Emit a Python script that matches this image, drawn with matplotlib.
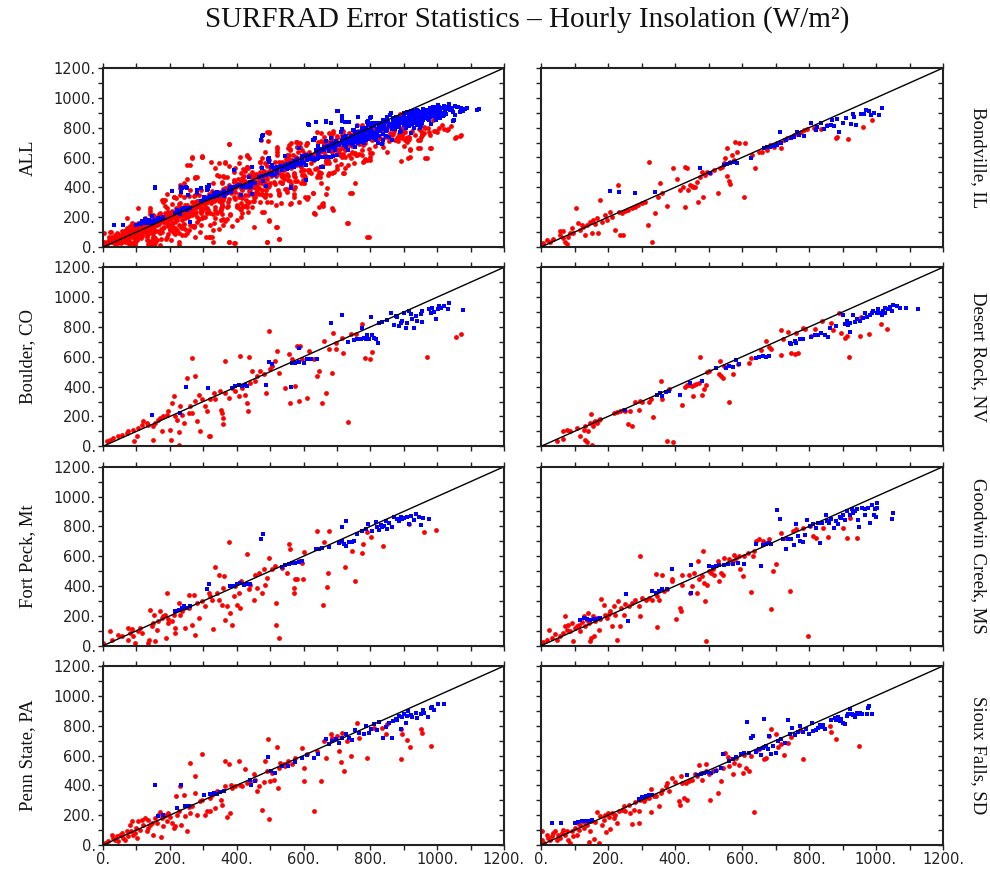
import matplotlib
matplotlib.use("Agg")
import matplotlib.pyplot as plt

# ---------------- text / ticks ----------------
TITLE = "SURFRAD Error Statistics \u2013 Hourly Insolation (W/m\u00b2)"
MAJOR_TICKS = [0, 200, 400, 600, 800, 1000, 1200]
TICK_LABELS = ["0.", "200.", "400.", "600.", "800.", "1000.", "1200."]
MINOR_TICKS = [100, 300, 500, 700, 900, 1100]
PANEL_NAMES = ["ALL", "Bondville, IL", "Boulder, CO", "Desert Rock, NV",
               "Fort Peck, Mt", "Goodwin Creek, MS", "Penn State, PA", "Sioux Falls, SD"]

# ---------------- data (x, y) pairs ----------------
BONDVILLE_RED = [(7,25),(17,47),(27,36),(37,51),(57,80),(67,58),(57,107),(67,107),(72,36),(79,20),(82,69),(87,92),
    (92,125),(97,92),(104,263),(111,163),(116,114),(121,147),(126,132),(131,80),(136,147),(146,170),(151,96),(156,181),
    (161,154),(166,192),(171,96),(176,315),(181,170),(191,214),(196,181),(206,237),(211,203),(221,114),(231,415),(234,237),
    (236,80),(241,226),(246,80),(251,243),(261,248),(271,259),(281,270),(291,281),(301,293),(310,304),(320,147),(323,567),
    (330,36),(340,230),(350,337),(355,427),(360,360),(375,277),(395,532),(405,454),(415,382),(425,405),(430,266),(430,539),
    (435,527),(440,382),(445,416),(450,409),(455,405),(460,405),(465,438),(470,304),(475,471),(480,505),(485,338),(490,483),
    (495,505),(505,494),(515,516),(527,364),(533,527),(540,539),(545,561),(550,594),(555,661),(555,476),(560,445),(563,422),
    (565,572),(570,617),(575,583),(580,706),(585,639),(590,695),(605,338),(610,695),(630,617),(640,527),(650,639),(660,639),
    (675,650),(685,684),(695,672),(705,695),(715,661),(725,717),(735,728),(745,739),(755,751),(765,762),(775,773),(785,784),
    (795,789),(815,795),(835,789),(855,818),(883,739),(880,728),(915,724),(960,802),(987,851)]
BONDVILLE_BLUE = [(206,375),(234,371),(281,360),(340,371),(475,527),(505,494),(545,550),(555,556),(565,561),(575,572),
    (585,565),(627,594),(665,661),(675,668),(685,672),(695,677),(705,684),(713,773),(715,699),(730,717),(745,728),(755,739),
    (765,773),(770,751),(785,744),(805,829),(820,784),(825,806),(835,829),(845,789),(855,811),(865,818),(870,851),(875,811),
    (885,856),(890,773),(900,833),(910,862),(925,824),(930,891),(935,873),(940,818),(955,891),(965,891),(970,918),(980,913),
    (985,885),(995,900),(1010,885),(1017,934)]

BOULDER_RED = [(11,34),(21,45),(31,56),(46,67),(56,78),(71,90),(76,101),(91,112),(94,34),(101,67),(106,123),(116,146),
    (121,168),(131,157),(136,146),(151,45),(151,134),(156,157),(166,179),(171,190),(176,101),(181,202),(191,213),(196,235),
    (201,112),(204,45),(206,291),(211,336),(216,202),(221,179),(226,11),(226,94),(231,269),(236,213),(241,157),(251,459),
    (256,224),(261,269),(266,594),(266,224),(276,470),(276,302),(281,168),(286,347),(291,101),(296,314),(306,269),(311,235),
    (316,67),(321,67),(321,314),(331,358),(336,314),(351,370),(354,246),(356,224),(358,190),(359,150),(364,571),(366,358),
    (376,325),(386,392),(396,370),(406,336),(409,605),(416,392),(426,347),(431,291),(434,235),(436,598),(441,426),(446,504),
    (456,437),(461,470),(471,504),(481,482),(489,358),(496,773),(501,515),(506,538),(516,571),(521,638),(526,493),(546,392),
    (556,616),(561,291),(566,582),(576,403),(581,672),(586,302),(591,672),(596,582),(611,325),(616,638),(631,582),(641,470),
    (646,504),(656,291),(661,706),(668,358),(676,650),(686,493),(688,762),(696,694),(698,650),(716,728),(718,623),(734,163),
    (741,750),(756,750),(776,818),(784,589),(798,582),(806,632),(969,598),(1056,735),(1071,750)]
BOULDER_BLUE = [(148,208),(231,224),(248,399),(313,392),(386,392),(396,403),(406,414),(416,403),(426,408),(431,403),
    (488,408),(496,567),(506,549),(564,399),(566,560),(576,556),(586,564),(588,661),(601,560),(611,582),(621,587),(641,587),
    (681,829),(716,878),(734,699),(751,712),(761,721),(771,717),(776,795),(781,726),(786,717),(791,744),(796,721),(801,869),
    (804,744),(811,728),(816,717),(824,694),(826,829),(836,833),(851,847),(861,896),(871,811),(876,874),(881,869),(886,806),
    (891,829),(896,842),(901,896),(906,795),(911,829),(916,907),(921,885),(926,851),(931,795),(936,874),(941,842),(951,885),
    (954,833),(956,907),(976,918),(981,896),(986,929),(991,900),(996,851),(1001,918),(1006,941),(1011,929),(1021,941),
    (1031,923),(1036,959),(1076,914)]

DESERT_ROCK_RED = [(47,34),(67,49),(67,105),(77,108),(87,101),(107,123),(117,72),(127,108),(132,139),(132,45),(137,27),
    (140,101),(147,157),(150,217),(152,11),(154,134),(157,161),(162,168),(167,157),(172,179),(177,184),(217,224),(227,228),
    (237,235),(244,242),(252,235),(260,150),(267,235),(272,139),(282,296),(292,242),(297,302),(302,296),(322,296),(327,318),
    (334,195),(357,437),(360,318),(377,34),(382,381),(394,27),(422,276),(430,399),(437,414),(442,408),(452,403),(454,336),
    (457,414),(462,421),(472,426),(475,598),(480,347),(487,381),(494,414),(497,497),(502,502),(532,482),(535,571),(537,470),
    (542,459),(547,538),(562,296),(572,488),(587,549),(622,560),(627,594),(657,645),(672,706),(682,668),(687,650),(715,609),
    (717,780),(722,717),(737,764),(747,627),(757,616),(762,762),(767,623),(782,795),(787,784),(807,739),(817,789),(840,840),
    (867,824),(872,780),(890,891),(897,762),(907,728),(912,739),(920,600),(952,739),(954,869),(978,750),(1014,818),(1032,789)]
DESERT_ROCK_BLUE = [(252,246),(347,347),(354,358),(362,340),(372,363),(382,370),(414,347),(444,426),(480,441),(522,526),
    (552,526),(562,538),(572,533),(582,578),(592,549),(642,594),(652,600),(662,605),(672,600),(682,605),(742,694),(747,683),
    (757,706),(762,694),(772,717),(782,721),(807,735),(817,744),(827,744),(837,757),(847,744),(857,735),(864,795),(882,806),
    (902,878),(907,818),(912,840),(917,811),(922,829),(932,878),(937,833),(942,851),(952,840),(962,862),(967,896),(972,865),
    (982,878),(987,891),(992,907),(1002,891),(1007,918),(1012,896),(1022,907),(1027,929),(1037,918),(1042,934),(1047,907),
    (1052,945),(1062,941),(1072,929),(1090,929),(1125,923),(1017,878),(1027,891),(922,766)]

FORT_PECK_RED = [(1,18),(21,101),(26,40),(46,74),(56,63),(76,119),(76,40),(81,85),(86,112),(91,67),(96,18),(104,96),
    (111,119),(116,85),(134,18),(138,40),(141,238),(146,130),(151,152),(154,208),(156,29),(161,108),(166,164),(171,231),
    (176,186),(181,197),(186,208),(188,52),(191,354),(194,179),(196,152),(206,164),(211,208),(216,85),(216,119),(226,287),
    (231,208),(236,231),(241,253),(244,119),(256,339),(256,253),(266,141),(271,343),(274,69),(281,287),(286,186),(296,298),
    (306,264),(316,354),(321,332),(326,309),(328,112),(336,530),(341,354),(346,309),(348,477),(356,276),(359,388),(361,467),
    (366,175),(371,265),(376,692),(381,220),(386,141),(391,332),(396,400),(401,276),(406,354),(411,253),(414,433),(431,613),
    (436,377),(441,410),(451,309),(456,477),(461,388),(466,489),(476,354),(481,512),(486,410),(491,456),(496,586),(506,512),
    (516,535),(519,283),(519,137),(526,52),(536,523),(551,489),(556,683),(559,651),(571,388),(573,354),(576,444),(581,444),
    (586,568),(596,557),(598,449),(601,629),(641,771),(658,276),(661,692),(671,393),(674,485),(676,766),(711,703),(724,530),
    (746,636),(754,431),(776,620),(778,681),(791,764),(801,726),(838,670),(916,815),(961,764),(996,777)]
FORT_PECK_BLUE = [(216,231),(226,242),(236,253),(241,264),(251,253),(261,264),(311,382),(316,411),(381,400),(391,400),
    (401,411),(411,418),(421,404),(431,411),(441,411),(473,714),(478,748),(536,530),(546,539),(556,545),(566,557),(576,552),
    (586,561),(596,568),(636,647),(646,651),(656,658),(676,663),(706,690),(714,793),(716,703),(721,681),(726,836),(728,668),
    (736,696),(746,692),(751,703),(761,748),(776,771),(786,782),(794,815),(806,771),(816,831),(821,793),(826,777),(831,809),
    (836,793),(841,804),(846,838),(851,782),(856,824),(866,793),(871,860),(881,849),(886,838),(891,860),(896,849),(901,853),
    (911,860),(916,815),(921,867),(931,844),(938,883),(946,860),(951,811),(958,853),(976,849)]

GOODWIN_RED = [(7,22),(17,40),(24,103),(32,52),(42,81),(47,40),(57,63),(67,85),(72,197),(72,130),(77,108),(82,141),
    (87,96),(92,152),(97,29),(100,119),(107,130),(112,141),(117,96),(122,157),(127,197),(132,130),(137,170),(140,220),
    (144,152),(147,29),(150,52),(154,197),(157,63),(162,164),(167,186),(172,103),(177,179),(180,314),(187,276),(192,208),
    (197,186),(202,215),(207,231),(212,130),(217,264),(222,208),(227,36),(230,298),(237,130),(240,253),(247,208),(252,282),
    (262,264),(272,287),(282,309),(292,264),(297,600),(297,197),(302,320),(312,309),(322,320),(332,309),(342,484),(347,332),
    (347,123),(352,309),(360,477),(367,365),(377,377),(392,444),(392,433),(402,179),(414,253),(417,231),(420,410),(422,477),
    (442,477),(445,354),(452,399),(457,489),(467,354),(470,567),(472,444),(482,467),(485,638),(487,422),(490,302),(492,34),
    (497,410),(502,500),(507,489),(512,512),(517,477),(527,567),(530,433),(537,489),(542,477),(547,589),(557,556),(562,578),
    (572,567),(577,605),(582,589),(592,600),(594,512),(604,470),(607,600),(617,622),(627,361),(632,600),(637,633),(642,701),
    (652,712),(662,701),(672,690),(682,712),(687,246),(692,500),(700,545),(717,757),(730,723),(744,365),(752,768),(762,780),
    (782,791),(797,67),(802,802),(812,735),(822,723),(842,791),(857,730),(902,791),(914,719),(922,858),(944,719)]
GOODWIN_BLUE = [(117,175),(127,186),(137,179),(147,175),(157,179),(167,179),(177,186),(254,347),(260,168),(332,365),
    (342,354),(352,365),(362,377),(377,381),(392,515),(447,538),(447,354),(502,533),(512,527),(522,533),(532,542),(547,542),
    (557,545),(572,551),(587,556),(607,551),(642,679),(657,533),(662,672),(672,679),(682,690),(687,679),(704,910),(714,847),
    (722,712),(732,650),(737,717),(747,712),(754,672),(760,813),(767,735),(772,701),(782,697),(787,740),(794,842),(802,802),
    (812,813),(822,791),(827,825),(834,690),(840,825),(850,874),(854,836),(860,825),(867,852),(874,791),(882,836),(887,813),
    (894,865),(897,854),(902,876),(907,843),(914,903),(922,876),(927,914),(932,892),(937,903),(942,914),(947,843),(950,795),
    (957,925),(967,914),(967,874),(977,920),(982,825),(987,941),(994,874),(997,914),(1002,954),(1002,920),(1000,865),
    (1047,847),(1052,887)]

PENN_STATE_RED = [(6,13),(16,29),(26,69),(31,47),(36,36),(41,58),(46,25),(51,69),(56,81),(61,47),(66,36),(71,92),(76,58),
    (81,137),(84,92),(88,159),(91,69),(96,81),(98,114),(101,47),(106,159),(111,103),(116,170),(121,137),(126,181),(131,92),
    (134,114),(136,170),(141,137),(146,148),(151,69),(156,181),(161,148),(166,204),(171,222),(174,54),(176,181),(181,125),
    (184,193),(188,204),(191,159),(196,215),(201,186),(206,148),(211,114),(216,125),(219,327),(221,204),(226,226),(231,394),
    (234,137),(241,338),(246,193),(251,96),(256,253),(261,551),(261,215),(266,260),(276,461),(276,349),(281,204),(291,293),
    (296,607),(296,304),(306,204),(311,231),(321,226),(321,316),(326,338),(336,249),(341,361),(354,305),(356,271),(366,562),
    (366,394),(371,186),(376,540),(381,215),(384,405),(386,383),(396,394),(406,562),(411,405),(416,394),(426,511),(431,417),
    (441,432),(451,473),(456,439),(461,361),(466,394),(476,237),(481,423),(484,562),(491,495),(494,712),(498,177),(501,432),
    (506,484),(511,439),(521,656),(524,383),(526,517),(531,551),(541,540),(546,529),(554,562),(566,540),(576,585),(596,647),
    (601,517),(601,432),(611,607),(631,231),(641,630),(651,432),(661,697),(668,585),(681,746),(686,719),(701,731),(706,630),
    (711,558),(716,753),(721,495),(731,697),(741,596),(761,815),(766,719),(789,585),(811,787),(836,787),(846,742),(851,809),
    (891,775),(893,574),(896,742),(911,702),(918,656),(951,775),(956,753),(981,664)]
PENN_STATE_BLUE = [(156,401),(166,193),(181,204),(221,249),(234,405),(246,260),(256,264),(301,332),(321,343),(331,349),
    (341,343),(351,356),(361,365),(441,439),(444,401),(456,428),(494,591),(504,495),(516,484),(536,529),(554,529),(576,558),
    (596,585),(611,603),(631,585),(644,612),(666,708),(676,679),(686,697),(696,708),(706,686),(716,719),(726,742),(736,719),
    (744,701),(754,768),(766,753),(781,746),(788,797),(796,753),(801,775),(811,809),(821,769),(826,827),(838,715),(846,793),
    (856,815),(866,715),(869,831),(876,842),(881,835),(886,865),(891,775),(896,858),(901,880),(906,820),(911,865),(914,898),
    (921,869),(926,856),(936,885),(941,853),(951,880),(958,907),(961,885),(974,858),(981,916),(986,925),(991,907),(1001,943),
    (1021,947)]

SIOUX_FALLS_RED = [(2,36),(4,96),(10,13),(17,69),(22,47),(27,36),(32,58),(37,81),(42,92),(47,36),(52,69),(57,47),(62,81),
    (67,103),(72,69),(77,96),(82,36),(87,13),(92,92),(97,58),(102,114),(107,69),(110,148),(112,103),(117,137),(122,159),
    (127,114),(132,148),(137,137),(142,20),(147,96),(150,159),(157,43),(162,155),(167,220),(172,13),(177,193),(182,137),
    (187,170),(192,204),(194,87),(200,215),(202,186),(207,110),(212,215),(217,181),(222,204),(227,148),(232,226),(242,237),
    (247,260),(252,226),(262,271),(267,215),(272,141),(277,237),(282,289),(292,226),(294,148),(297,305),(302,320),(307,293),
    (312,316),(322,316),(327,376),(329,222),(337,327),(342,327),(352,264),(357,349),(362,372),(372,394),(377,417),(382,361),
    (392,450),(400,423),(412,293),(415,266),(417,461),(422,417),(427,316),(432,417),(437,305),(442,428),(452,439),(460,473),
    (467,461),(472,535),(477,484),(482,439),(492,544),(494,495),(502,479),(504,305),(512,495),(522,506),(527,349),(537,432),
    (542,517),(550,618),(557,589),(562,529),(572,473),(577,551),(582,585),(592,535),(602,484),(607,603),(612,517),(622,495),
    (627,596),(635,220),(642,630),(652,641),(662,657),(667,574),(672,585),(682,730),(687,775),(700,746),(707,657),(717,675),
    (724,603),(737,684),(747,724),(772,769),(782,574),(862,797),(867,760),(882,712),(950,663)]
SIOUX_FALLS_BLUE = [(32,148),(60,148),(100,148),(110,155),(122,159),(132,159),(142,164),(152,170),(292,311),(302,320),
    (312,327),(322,334),(332,338),(437,468),(467,468),(477,473),(487,484),(497,491),(507,484),(522,495),(537,517),(544,612),
    (562,562),(572,574),(582,589),(597,607),(607,618),(614,827),(622,618),(627,715),(634,730),(642,625),(650,641),(657,603),
    (662,652),(666,847),(672,663),(677,641),(682,730),(687,607),(692,663),(700,618),(707,697),(717,708),(727,684),(737,838),
    (742,742),(750,786),(757,740),(767,755),(774,795),(782,760),(792,775),(800,746),(808,815),(812,764),(820,769),(827,786),
    (832,802),(837,791),(842,802),(847,775),(867,835),(877,853),(882,835),(887,858),(892,831),(897,847),(902,820),(907,809),
    (912,865),(917,876),(922,909),(927,880),(932,871),(937,858),(942,887),(947,876),(952,887),(957,880),(972,876),(977,920),
    (980,932),(987,876)]

# points of the combined panel that are not in the station panels
ALL_EXTRA_RED = [(267,601),(297,605),(252,550),(282,471),(377,690),(347,561),(392,505),(412,494),(432,617),(432,539),
    (437,483),(472,717),(492,773),(497,766),(482,233),(497,181),(522,137),(527,54),(492,36),(377,32),(392,25),(327,65),
    (307,70),(332,163),(352,181),(412,204),(447,271),(452,137),(402,271),(362,338),(382,371),(452,338),(462,382),(292,248),
    (312,259),(232,226),(162,47),(152,70),(142,114),(132,70),(192,70),(212,92),(172,181),(257,114),(272,137),(242,427),
    (237,405),(212,338),(187,315),(192,259),(292,382),(312,338),(532,293),(552,371),(572,338),(592,427),(612,338),(627,360),
    (647,271),(652,494),(632,226),(677,494),(657,293),(572,494),(562,695),(577,706),(582,672),(592,550),(617,516),(642,483),
    (667,561),(677,672),(632,728),(652,766),(607,684),(522,672),(684,259),(719,494),(729,163),(739,360),(789,70),(734,550),
    (724,650),(779,572),(799,628),(759,617),(879,717),(889,739),(904,717),(919,650),(914,594),(944,661),(949,717),(964,594),
    (979,661),(954,750),(974,795),(999,773),(1029,784),(1054,728),(1069,744),(679,650),(699,695),(709,617),(749,695),
    (829,728),(859,762),(839,784),(894,795),(869,818)]
ALL_BAND_RED = [(20,60),(35,20),(45,90),(55,30),(65,110),(75,50),(85,140),(95,40),(105,150),(115,60),(125,170),(135,90),
    (145,180),(155,110),(165,200),(175,120),(185,230),(195,140),(205,240),(215,170),(225,260),(235,180),(245,280),(255,200),
    (265,300),(275,220),(285,310),(295,240),(305,320),(315,250),(325,340),(335,270),(345,360),(355,290),(365,380),(375,300),
    (385,400),(395,320),(405,420),(415,330),(425,440),(435,350),(445,460),(455,360),(465,470),(475,380),(485,490),(495,400),
    (505,500),(515,420),(525,520),(535,430),(545,540),(555,450),(565,550),(575,470),(585,570),(595,480),(605,590),(615,500),
    (625,600),(635,520),(645,610),(655,540),(665,620),(675,560),(685,640),(695,580),(705,650),(715,600),(725,660),(735,620),
    (745,680),(755,630),(765,690),(775,650),(785,700),(795,660),(805,720),(815,680),(825,730),(835,700),(845,740),(855,710),
    (865,750),(875,720),(885,760),(895,730),(905,770),(915,740),(925,780),(935,750),(945,790),(955,760),(965,800),(975,770),
    (990,780),(1005,800),(1020,790),(1040,810),(140,260),(180,300),(230,350),(260,380),(330,430),(370,470),(420,520),
    (470,570),(520,620),(560,660),(610,700),(660,740),(200,120),(240,150),(300,200),(350,240),(400,280),(450,310),(500,350),
    (550,390),(600,430),(650,470),(700,520),(750,560),(800,600),(850,640),(900,680)]
ALL_EXTRA_BLUE = [(32,148),(60,148),(100,148),(157,398),(207,375),(237,393),(250,393),(254,349),(282,382),(292,393),
    (312,405),(317,416),(392,516),(412,349),(477,744),(472,717),(497,594),(562,393),(607,449),(617,818),(637,840),(632,717),
    (652,539),(667,840),(699,911),(714,873),(724,840),(734,840),(764,873),(799,862),(789,840),(829,829),(839,806),(859,885),
    (879,873),(909,907),(919,885),(939,918),(959,918),(969,896),(979,929),(989,907),(999,940),(1009,918),(1019,885),
    (1029,940),(1044,929),(1049,851),(1059,940),(1069,907),(1084,925),(1118,918),(694,650),(709,695),(739,717),(769,739),
    (799,762),(829,784),(879,806),(929,840),(979,873),(1009,862),(679,605),(689,672),(719,739),(749,784),(779,795),(809,818),
    (839,851),(869,862),(899,862),(949,885)]

STATIONS_RED = [BONDVILLE_RED, BOULDER_RED, DESERT_ROCK_RED, FORT_PECK_RED, GOODWIN_RED, PENN_STATE_RED, SIOUX_FALLS_RED]
STATIONS_BLUE = [BONDVILLE_BLUE, BOULDER_BLUE, DESERT_ROCK_BLUE, FORT_PECK_BLUE, GOODWIN_BLUE, PENN_STATE_BLUE, SIOUX_FALLS_BLUE]

ALL_RED = [p for s in STATIONS_RED for p in s] + ALL_EXTRA_RED + ALL_BAND_RED
ALL_BLUE = [p for s in STATIONS_BLUE for p in s] + ALL_EXTRA_BLUE

PANEL_RED = [ALL_RED] + STATIONS_RED
PANEL_BLUE = [ALL_BLUE] + STATIONS_BLUE

# ---------------- figure ----------------
W, H = 990, 872
fig = plt.figure(figsize=(W / 100, H / 100), dpi=100)

col_left = [103, 541]
col_width = [401, 402]
row_top = [68, 267.3, 466.7, 666]
row_h = 179

tick_font = dict(family="DejaVu Sans", size=10.5)
serif = ["Liberation Serif", "DejaVu Serif"]

for i, name in enumerate(PANEL_NAMES):
    r, c = divmod(i, 2)
    x0 = col_left[c] / W
    y0 = 1 - (row_top[r] + row_h) / H
    ax = fig.add_axes([x0, y0, col_width[c] / W, row_h / H])
    ax.set_xlim(0, 1200)
    ax.set_ylim(0, 1200)

    red = PANEL_RED[i]
    blue = PANEL_BLUE[i]
    ax.scatter([p[0] for p in red], [p[1] for p in red], s=12, c="#ff0000", marker="o",
               linewidths=0, zorder=2, clip_on=True)
    ax.scatter([p[0] for p in blue], [p[1] for p in blue], s=8, c="#0000ff", marker="s",
               linewidths=0, zorder=3, clip_on=True)
    ax.plot([0, 1200], [0, 1200], color="black", lw=1.0, zorder=4)

    for sp in ax.spines.values():
        sp.set_linewidth(1.5)
        sp.set_color("#222222")

    ax.set_xticks(MAJOR_TICKS)
    ax.set_xticks(MINOR_TICKS, minor=True)
    ax.set_yticks(MAJOR_TICKS)
    ax.set_yticks(MINOR_TICKS, minor=True)
    ax.tick_params(axis="both", which="both", direction="out", length=3.5, width=1.0,
                   color="#222222", top=True, bottom=True, left=True, right=False, pad=1.5)
    if c == 0:
        ax.set_yticklabels(TICK_LABELS, fontdict=tick_font, color="#222222")
    else:
        ax.set_yticklabels([])
    if r == 3:
        ax.set_xticklabels(TICK_LABELS, fontdict=tick_font, color="#222222")
    else:
        ax.set_xticklabels([])

    # inward ticks on the right side
    ax2 = ax.twinx()
    ax2.set_ylim(0, 1200)
    ax2.set_yticks(MAJOR_TICKS)
    ax2.set_yticks(MINOR_TICKS, minor=True)
    ax2.tick_params(axis="y", which="both", direction="in", length=3.5, width=1.0,
                    color="#222222", labelright=False, right=True)
    for sp in ax2.spines.values():
        sp.set_visible(False)

    yc = 1 - (row_top[r] + row_h / 2) / H
    if c == 0:
        fig.text(28 / W, yc, name, rotation=90, ha="center", va="center",
                 family=serif, fontsize=13.5, color="#111111")
    else:
        fig.text(978 / W, yc, name, rotation=-90, ha="center", va="center",
                 family=serif, fontsize=13.5, color="#111111")

fig.text(527 / W, 1 - 20 / H, TITLE, ha="center", va="center", family=serif,
         fontsize=21, color="#111111")

fig.savefig("out.png", dpi=100, facecolor="white")
